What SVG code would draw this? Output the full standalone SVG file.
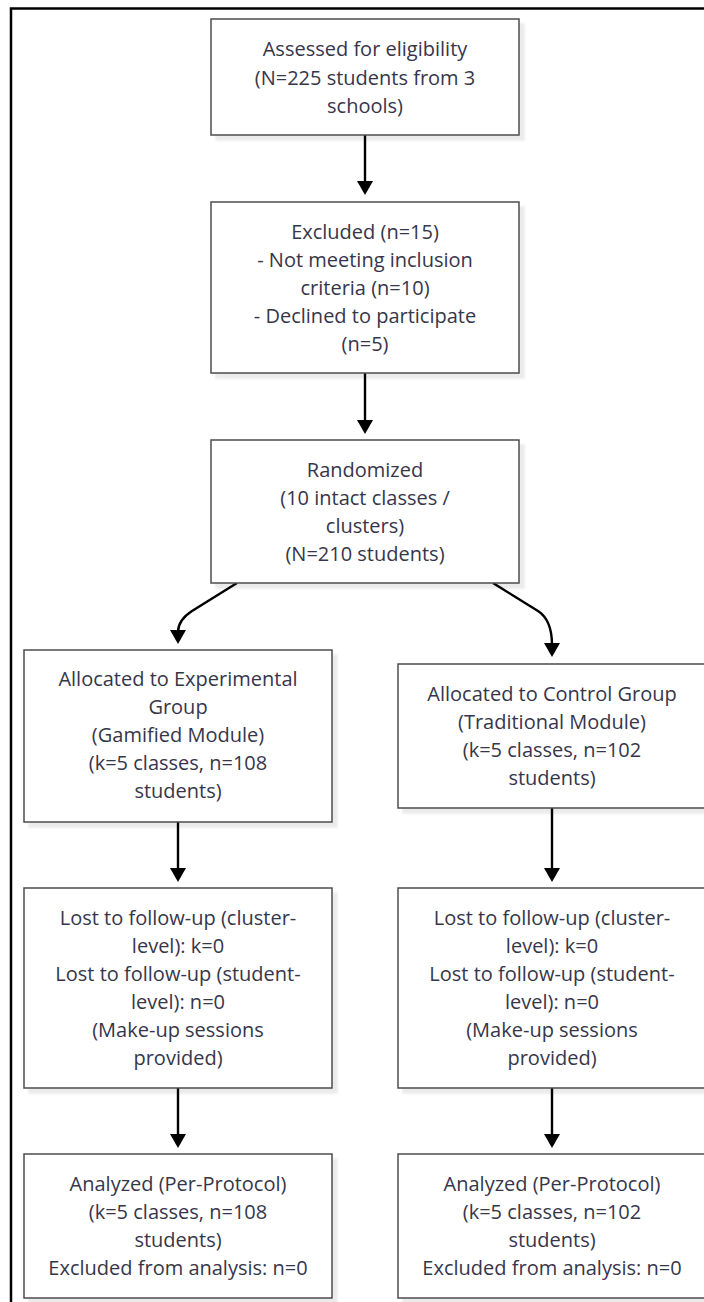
<svg xmlns="http://www.w3.org/2000/svg" width="704" height="1302" viewBox="0 0 704 1302">
<style>
.box{fill:#ffffff;stroke:#4d4d4d;stroke-width:1.5;filter:url(#sh)}
.t{font-family:"Open Sans","Liberation Sans",sans-serif;font-size:20px;fill:#36364a;text-anchor:middle}
.c{fill:none;stroke:#000000;stroke-width:2.4}
</style>
<defs>
<filter id="sh" x="-10%" y="-10%" width="130%" height="130%">
<feDropShadow dx="5" dy="5" stdDeviation="1.2" flood-color="#000000" flood-opacity="0.08"/>
</filter>
<marker id="ah" viewBox="0 0 14 16" refX="2" refY="8" markerWidth="14" markerHeight="16" markerUnits="userSpaceOnUse" orient="auto">
<path d="M0,0 L14,8 L0,16 z" fill="#000000"/>
</marker>
</defs>
<rect x="11" y="8.5" width="900" height="1500" fill="none" stroke="#000000" stroke-width="2.5"/>
<g id="connectors">
<path class="c" d="M365,135 L365,183" marker-end="url(#ah)"/>
<path class="c" d="M365,373 L365,422" marker-end="url(#ah)"/>
<path class="c" d="M237,583 L192,611 Q178,620 178,632" marker-end="url(#ah)"/>
<path class="c" d="M493,583 L538,611 Q552,620 552,645" marker-end="url(#ah)"/>
<path class="c" d="M178,822 L178,870" marker-end="url(#ah)"/>
<path class="c" d="M552,808 L552,870" marker-end="url(#ah)"/>
<path class="c" d="M178,1088 L178,1136" marker-end="url(#ah)"/>
<path class="c" d="M552,1088 L552,1136" marker-end="url(#ah)"/>
</g>
<g id="assessed">
<rect class="box" x="211" y="19" width="308" height="116"/>
<text class="t" x="365" y="56">Assessed for eligibility</text>
<text class="t" x="365" y="85">(N=225 students from 3</text>
<text class="t" x="365" y="113">schools)</text>
</g>
<g id="excluded">
<rect class="box" x="211" y="202" width="308" height="171"/>
<text class="t" x="365" y="239">Excluded (n=15)</text>
<text class="t" x="365" y="267">- Not meeting inclusion</text>
<text class="t" x="365" y="295">criteria (n=10)</text>
<text class="t" x="365" y="323">- Declined to participate</text>
<text class="t" x="365" y="351">(n=5)</text>
</g>
<g id="randomized">
<rect class="box" x="211" y="440" width="308" height="143"/>
<text class="t" x="365" y="477">Randomized</text>
<text class="t" x="365" y="505">(10 intact classes /</text>
<text class="t" x="365" y="533">clusters)</text>
<text class="t" x="365" y="561">(N=210 students)</text>
</g>
<g id="alloc-exp">
<rect class="box" x="24" y="650" width="308" height="172"/>
<text class="t" x="178" y="686">Allocated to Experimental</text>
<text class="t" x="178" y="714">Group</text>
<text class="t" x="178" y="742">(Gamified Module)</text>
<text class="t" x="178" y="770">(k=5 classes, n=108</text>
<text class="t" x="178" y="798">students)</text>
</g>
<g id="alloc-ctrl">
<rect class="box" x="398" y="664" width="308" height="144"/>
<text class="t" x="552" y="701">Allocated to Control Group</text>
<text class="t" x="552" y="729">(Traditional Module)</text>
<text class="t" x="552" y="757">(k=5 classes, n=102</text>
<text class="t" x="552" y="785">students)</text>
</g>
<g id="lost-exp">
<rect class="box" x="24" y="888" width="308" height="200"/>
<text class="t" x="178" y="925">Lost to follow-up (cluster-</text>
<text class="t" x="178" y="953">level): k=0</text>
<text class="t" x="178" y="981">Lost to follow-up (student-</text>
<text class="t" x="178" y="1009">level): n=0</text>
<text class="t" x="178" y="1037">(Make-up sessions</text>
<text class="t" x="178" y="1065">provided)</text>
</g>
<g id="lost-ctrl">
<rect class="box" x="398" y="888" width="308" height="200"/>
<text class="t" x="552" y="925">Lost to follow-up (cluster-</text>
<text class="t" x="552" y="953">level): k=0</text>
<text class="t" x="552" y="981">Lost to follow-up (student-</text>
<text class="t" x="552" y="1009">level): n=0</text>
<text class="t" x="552" y="1037">(Make-up sessions</text>
<text class="t" x="552" y="1065">provided)</text>
</g>
<g id="analyzed-exp">
<rect class="box" x="24" y="1154" width="308" height="144"/>
<text class="t" x="178" y="1191">Analyzed (Per-Protocol)</text>
<text class="t" x="178" y="1219">(k=5 classes, n=108</text>
<text class="t" x="178" y="1247">students)</text>
<text class="t" x="178" y="1275">Excluded from analysis: n=0</text>
</g>
<g id="analyzed-ctrl">
<rect class="box" x="398" y="1154" width="308" height="144"/>
<text class="t" x="552" y="1191">Analyzed (Per-Protocol)</text>
<text class="t" x="552" y="1219">(k=5 classes, n=102</text>
<text class="t" x="552" y="1247">students)</text>
<text class="t" x="552" y="1275">Excluded from analysis: n=0</text>
</g>
</svg>
